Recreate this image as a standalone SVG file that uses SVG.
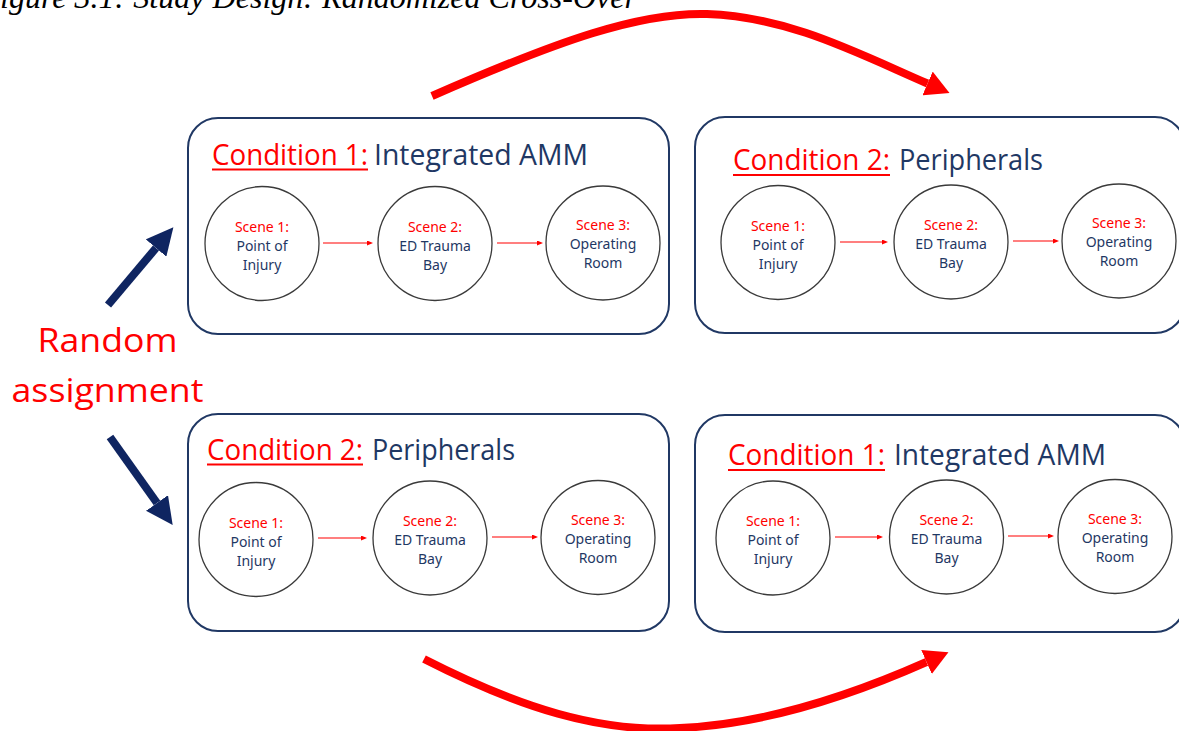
<svg xmlns="http://www.w3.org/2000/svg" width="1179" height="731" viewBox="0 0 1179 731">
<style>
.box{fill:#fff;stroke:#203864;stroke-width:2}
.circ{fill:#fff;stroke:#3a3a3a;stroke-width:1.3}
.ttl{font-family:"Open Sans","Noto Sans",sans-serif;font-size:30px}
.red{fill:#ff0000}
.navy{fill:#1f3864}
.sc{font-family:"Noto Sans","Open Sans",sans-serif;font-size:14px;text-anchor:middle}
.ul{stroke:#ff0000;stroke-width:2}
.small{stroke:#ff0000;stroke-width:1.2;fill:none;marker-end:url(#sm)}
.big{stroke:#ff0000;stroke-width:8;fill:none;marker-end:url(#rh)}
.nv{stroke:#0f2561;stroke-width:8;marker-end:url(#nh)}
</style>
<defs>
<marker id="sm" viewBox="0 0 10 10" refX="0" refY="5" markerWidth="6" markerHeight="5" markerUnits="userSpaceOnUse" orient="auto" preserveAspectRatio="none"><path d="M0,0 L10,5 L0,10 z" fill="#ff0000"/></marker>
<marker id="rh" viewBox="0 0 10 10" refX="0" refY="5" markerWidth="24" markerHeight="26" markerUnits="userSpaceOnUse" orient="auto" preserveAspectRatio="none"><path d="M0,0 L10,5 L0,10 z" fill="#ff0000"/></marker>
<marker id="nh" viewBox="0 0 10 10" refX="0" refY="5" markerWidth="27" markerHeight="27" markerUnits="userSpaceOnUse" orient="auto" preserveAspectRatio="none"><path d="M0,0 L10,5 L0,10 z" fill="#0f2561"/></marker>
</defs>
<rect width="1179" height="731" fill="#fff"/>
<text x="0" y="8" font-family="'Liberation Serif',serif" font-style="italic" font-size="32" textLength="637" lengthAdjust="spacingAndGlyphs" fill="#000">igure 3.1: Study Design: Randomized Cross-Over</text>

<g id="random-assignment">
<text x="107.5" y="352" text-anchor="middle" class="red" font-family="'Open Sans','Noto Sans',sans-serif" font-size="32" textLength="140" lengthAdjust="spacingAndGlyphs">Random</text>
<text x="107.5" y="402" text-anchor="middle" class="red" font-family="'Open Sans','Noto Sans',sans-serif" font-size="32" textLength="192" lengthAdjust="spacingAndGlyphs">assignment</text>
</g>

<g id="box-a">
<rect class="box" x="188" y="118" width="481" height="216" rx="30"/>
<text class="ttl red" x="212" y="165" textLength="156" lengthAdjust="spacingAndGlyphs">Condition 1:</text>
<line class="ul" x1="212" y1="169.5" x2="368" y2="169.5"/>
<text class="ttl navy" x="374" y="165" textLength="214" lengthAdjust="spacingAndGlyphs">Integrated AMM</text>
<g id="a-s1"><circle class="circ" cx="262" cy="243.5" r="57"/><text class="sc"><tspan class="red" x="262" y="231.5">Scene 1:</tspan><tspan class="navy" x="262" y="250.5">Point of</tspan><tspan class="navy" x="262" y="269.5">Injury</tspan></text></g>
<g id="a-s2"><circle class="circ" cx="435" cy="243.5" r="57"/><text class="sc"><tspan class="red" x="435" y="231.5">Scene 2:</tspan><tspan class="navy" x="435" y="250.5">ED Trauma</tspan><tspan class="navy" x="435" y="269.5">Bay</tspan></text></g>
<g id="a-s3"><circle class="circ" cx="603" cy="243" r="57"/><text class="sc"><tspan class="red" x="603" y="230">Scene 3:</tspan><tspan class="navy" x="603" y="249">Operating</tspan><tspan class="navy" x="603" y="268">Room</tspan></text></g>
</g>

<g id="box-b">
<rect class="box" x="695" y="117" width="490" height="216" rx="30"/>
<text class="ttl red" x="733" y="170" textLength="157" lengthAdjust="spacingAndGlyphs">Condition 2:</text>
<line class="ul" x1="733" y1="175" x2="890" y2="175"/>
<text class="ttl navy" x="899" y="170" textLength="144" lengthAdjust="spacingAndGlyphs">Peripherals</text>
<g id="b-s1"><circle class="circ" cx="778" cy="242.5" r="57"/><text class="sc"><tspan class="red" x="778" y="230.5">Scene 1:</tspan><tspan class="navy" x="778" y="249.5">Point of</tspan><tspan class="navy" x="778" y="268.5">Injury</tspan></text></g>
<g id="b-s2"><circle class="circ" cx="951" cy="242" r="57"/><text class="sc"><tspan class="red" x="951" y="230">Scene 2:</tspan><tspan class="navy" x="951" y="249">ED Trauma</tspan><tspan class="navy" x="951" y="268">Bay</tspan></text></g>
<g id="b-s3"><circle class="circ" cx="1119" cy="241" r="57"/><text class="sc"><tspan class="red" x="1119" y="228">Scene 3:</tspan><tspan class="navy" x="1119" y="247">Operating</tspan><tspan class="navy" x="1119" y="266">Room</tspan></text></g>
</g>

<g id="box-c">
<rect class="box" x="188" y="414" width="481" height="217" rx="30"/>
<text class="ttl red" x="207" y="459.5" textLength="156" lengthAdjust="spacingAndGlyphs">Condition 2:</text>
<line class="ul" x1="207" y1="464.5" x2="363" y2="464.5"/>
<text class="ttl navy" x="372" y="459.5" textLength="143" lengthAdjust="spacingAndGlyphs">Peripherals</text>
<g id="c-s1"><circle class="circ" cx="256" cy="539.5" r="57"/><text class="sc"><tspan class="red" x="256" y="527.5">Scene 1:</tspan><tspan class="navy" x="256" y="546.5">Point of</tspan><tspan class="navy" x="256" y="565.5">Injury</tspan></text></g>
<g id="c-s2"><circle class="circ" cx="430" cy="538" r="57"/><text class="sc"><tspan class="red" x="430" y="526">Scene 2:</tspan><tspan class="navy" x="430" y="545">ED Trauma</tspan><tspan class="navy" x="430" y="564">Bay</tspan></text></g>
<g id="c-s3"><circle class="circ" cx="598" cy="537.5" r="57"/><text class="sc"><tspan class="red" x="598" y="525">Scene 3:</tspan><tspan class="navy" x="598" y="544">Operating</tspan><tspan class="navy" x="598" y="563">Room</tspan></text></g>
</g>

<g id="box-d">
<rect class="box" x="695" y="415" width="490" height="217" rx="30"/>
<text class="ttl red" x="728" y="465" textLength="157" lengthAdjust="spacingAndGlyphs">Condition 1:</text>
<line class="ul" x1="728" y1="470" x2="885" y2="470"/>
<text class="ttl navy" x="894" y="465" textLength="212" lengthAdjust="spacingAndGlyphs">Integrated AMM</text>
<g id="d-s1"><circle class="circ" cx="773" cy="538" r="57"/><text class="sc"><tspan class="red" x="773" y="526">Scene 1:</tspan><tspan class="navy" x="773" y="545">Point of</tspan><tspan class="navy" x="773" y="564">Injury</tspan></text></g>
<g id="d-s2"><circle class="circ" cx="946.5" cy="537" r="57"/><text class="sc"><tspan class="red" x="946.5" y="525">Scene 2:</tspan><tspan class="navy" x="946.5" y="544">ED Trauma</tspan><tspan class="navy" x="946.5" y="563">Bay</tspan></text></g>
<g id="d-s3"><circle class="circ" cx="1115" cy="536.5" r="57"/><text class="sc"><tspan class="red" x="1115" y="524">Scene 3:</tspan><tspan class="navy" x="1115" y="543">Operating</tspan><tspan class="navy" x="1115" y="562">Room</tspan></text></g>
</g>

<g id="connectors">
<line class="small" x1="323" y1="243" x2="367" y2="243"/>
<line class="small" x1="497" y1="243" x2="537" y2="243"/>
<line class="small" x1="840" y1="242" x2="882" y2="242"/>
<line class="small" x1="1013" y1="241" x2="1053" y2="241"/>
<line class="small" x1="318" y1="538" x2="361" y2="538"/>
<line class="small" x1="492" y1="537" x2="532" y2="537"/>
<line class="small" x1="835" y1="537" x2="877" y2="537"/>
<line class="small" x1="1008" y1="536" x2="1048" y2="536"/>
<line class="nv" x1="108" y1="305" x2="156" y2="248"/>
<line class="nv" x1="110" y1="437" x2="157" y2="503"/>
<path class="big" d="M432,96 C560,40 640,12 707,14 C790,17 857,53 927.5,83.5"/>
<path class="big" d="M424,659 C520,708 600,733 680,728 C770,724 860,691.5 926.5,662"/>
</g>
</svg>
